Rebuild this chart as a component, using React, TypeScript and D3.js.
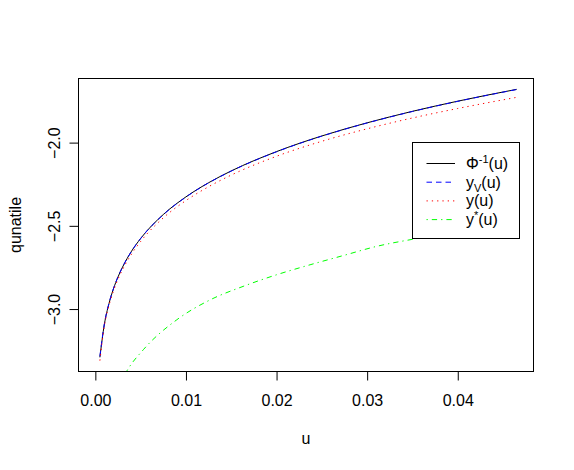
import React, { useEffect, useRef } from "react";
import { select, scaleLinear, axisBottom, axisLeft, line, curveMonotoneX, format } from "d3";

const width = 574;
const height = 470;
const box = { left: 78.5, right: 533.5, top: 78.5, bottom: 371.5 };
const font = "'Liberation Sans', Arial, Helvetica, sans-serif";

// u grid used by the three upper curves
const u = [0.0005, 0.001, 0.0015, 0.002, 0.0025, 0.003, 0.004, 0.005, 0.0075, 0.01, 0.0125, 0.015, 0.02, 0.025, 0.03, 0.035, 0.04, 0.0465];
const phiInv = [-3.29, -3.09, -2.968, -2.878, -2.807, -2.748, -2.652, -2.576, -2.432, -2.326, -2.241, -2.17, -2.054, -1.96, -1.881, -1.812, -1.751, -1.68];
const yV = [-3.284, -3.087, -2.966, -2.877, -2.806, -2.747, -2.652, -2.576, -2.433, -2.327, -2.242, -2.171, -2.055, -1.961, -1.882, -1.813, -1.752, -1.681];
const yU = [-3.31, -3.1, -2.979, -2.891, -2.821, -2.763, -2.669, -2.594, -2.452, -2.348, -2.265, -2.195, -2.082, -1.992, -1.917, -1.852, -1.795, -1.728];

// y*(u) runs lower and leaves the plot at the bottom
const uStar = [0.003, 0.0035, 0.0053, 0.009, 0.0127, 0.0163, 0.02, 0.0237, 0.0274, 0.031, 0.0353, 0.04, 0.0465];
const yStar = [-3.42, -3.37, -3.244, -3.064, -2.944, -2.864, -2.794, -2.734, -2.678, -2.624, -2.578, -2.535, -2.48];

const xTicks = [0, 0.01, 0.02, 0.03, 0.04];
const yTicks = [-3.0, -2.5, -2.0];

const series = [
  { xs: u, ys: phiInv, color: "#000000", dash: null, label: "phi" },
  { xs: u, ys: yV, color: "#0000FF", dash: "5.5,4", label: "yV" },
  { xs: u, ys: yU, color: "#FF0000", dash: "1.3,4", label: "y" },
  { xs: uStar, ys: yStar, color: "#00FF00", dash: "1.3,4,5.3,4", label: "ystar" },
];

const App = () => {
  const ref = useRef<SVGSVGElement>(null);

  useEffect(() => {
    const svg = select(ref.current);
    svg.selectAll("*").remove();

    // R style 4% padding round the data range
    const x = scaleLinear().domain([-0.00186, 0.04836]).range([box.left, box.right]);
    const y = scaleLinear().domain([-3.3752, -1.6148]).range([box.bottom, box.top]);

    svg.append("rect").attr("width", width).attr("height", height).attr("fill", "#fff");

    svg
      .append("clipPath")
      .attr("id", "plotclip")
      .append("rect")
      .attr("x", box.left)
      .attr("y", box.top)
      .attr("width", box.right - box.left)
      .attr("height", box.bottom - box.top);

    const plot = svg.append("g").attr("clip-path", "url(#plotclip)");
    series.forEach((s) => {
      const pts = s.xs.map((v, i) => [v, s.ys[i]] as [number, number]);
      const path = line<[number, number]>()
        .x((d) => x(d[0]))
        .y((d) => y(d[1]))
        .curve(curveMonotoneX);
      plot
        .append("path")
        .datum(pts)
        .attr("fill", "none")
        .attr("stroke", s.color)
        .attr("stroke-width", 1)
        .attr("stroke-dasharray", s.dash)
        .attr("d", path);
    });

    // x axis
    svg
      .append("g")
      .attr("transform", `translate(0,${box.bottom})`)
      .call(axisBottom(x).tickValues(xTicks).tickSize(9).tickPadding(14.5).tickFormat(format(".2f")))
      .call((g) => g.select(".domain").remove())
      .call((g) => g.selectAll("text").attr("font-size", 16).attr("font-family", font).attr("fill", "#000"));

    // y axis, labels turned like R's las=0
    svg
      .append("g")
      .attr("transform", `translate(${box.left},0)`)
      .call(axisLeft(y).tickValues(yTicks).tickSize(9).tickFormat(format(".1f")))
      .call((g) => g.select(".domain").remove())
      .call((g) =>
        g
          .selectAll("text")
          .attr("font-size", 16)
          .attr("font-family", font)
          .attr("fill", "#000")
          .attr("text-anchor", "middle")
          .attr("transform", "rotate(-90)")
          .attr("x", 0)
          .attr("y", -19)
          .attr("dy", null)
      );

    svg
      .append("rect")
      .attr("x", box.left)
      .attr("y", box.top)
      .attr("width", box.right - box.left)
      .attr("height", box.bottom - box.top)
      .attr("fill", "none")
      .attr("stroke", "#000");

    svg
      .append("text")
      .attr("x", (box.left + box.right) / 2)
      .attr("y", 444)
      .attr("text-anchor", "middle")
      .attr("font-size", 16)
      .attr("font-family", font)
      .text("u");

    svg
      .append("text")
      .attr("transform", `translate(21,${(box.top + box.bottom) / 2}) rotate(-90)`)
      .attr("text-anchor", "middle")
      .attr("font-size", 16)
      .attr("font-family", font)
      .text("qunatile");

    // legend
    const lg = svg.append("g");
    lg.append("rect")
      .attr("x", 412.5)
      .attr("y", 142.5)
      .attr("width", 107)
      .attr("height", 96)
      .attr("fill", "#fff")
      .attr("stroke", "#000");

    series.forEach((s, i) => {
      const cy = 163.5 + i * 18.7;
      lg.append("line")
        .attr("x1", 426.5)
        .attr("x2", 455)
        .attr("y1", cy)
        .attr("y2", cy)
        .attr("stroke", s.color)
        .attr("stroke-dasharray", s.dash);
      const t = lg
        .append("text")
        .attr("x", 466)
        .attr("y", cy + 5.5)
        .attr("font-size", 16)
        .attr("font-family", font);
      if (s.label === "phi") {
        t.append("tspan").text("Φ");
        t.append("tspan").attr("font-size", 11).attr("dy", -6).text("-1");
        t.append("tspan").attr("dy", 6).text("(u)");
      } else if (s.label === "yV") {
        t.append("tspan").text("y");
        t.append("tspan").attr("font-size", 11).attr("dy", 4).text("V");
        t.append("tspan").attr("dy", -4).text("(u)");
      } else if (s.label === "y") {
        t.text("y(u)");
      } else {
        t.append("tspan").text("y");
        t.append("tspan").attr("font-size", 11).attr("dy", -6).text("*");
        t.append("tspan").attr("dy", 6).text("(u)");
      }
    });
  }, []);

  return (
    <svg
      ref={ref}
      width={width}
      height={height}
      style={{ position: "absolute", left: 0, top: 0, display: "block" }}
    />
  );
};

export default App;
